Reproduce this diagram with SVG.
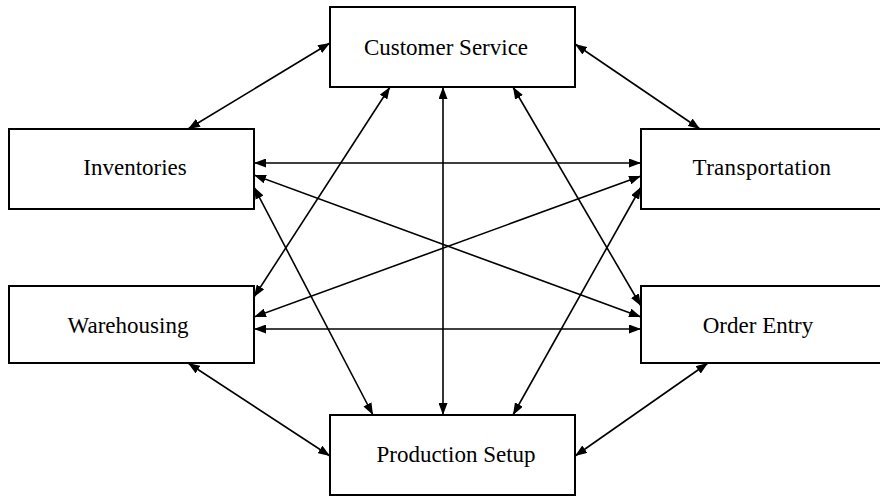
<svg xmlns="http://www.w3.org/2000/svg" width="880" height="496" viewBox="0 0 880 496">
  <style>
    .box rect { fill: #ffffff; stroke: #000000; stroke-width: 2; }
    .box text { font-family: "Liberation Serif", "Times New Roman", serif; font-size: 23px; fill: #000000; text-anchor: middle; }
    #connectors line { stroke: #000000; stroke-width: 1.6; marker-start: url(#arrow); marker-end: url(#arrow); }
  </style>
  <defs>
    <marker id="arrow" viewBox="0 0 12 9" refX="12" refY="4.5" markerWidth="12" markerHeight="9" markerUnits="userSpaceOnUse" orient="auto-start-reverse">
      <path d="M0,0 L12,4.5 L0,9 Z" fill="#000000"/>
    </marker>
  </defs>
  <rect width="880" height="496" fill="#ffffff"/>

  <!-- two-way links between the six functions -->
  <g id="connectors">
    <line x1="330" y1="43" x2="188" y2="129"/>
    <line x1="575" y1="44" x2="700" y2="129"/>
    <line x1="390" y1="87" x2="254" y2="297"/>
    <line x1="443" y1="87" x2="443" y2="415"/>
    <line x1="513" y1="87" x2="641" y2="306"/>
    <line x1="254" y1="163" x2="641" y2="163"/>
    <line x1="254" y1="175" x2="641" y2="317"/>
    <line x1="254" y1="187" x2="373" y2="415"/>
    <line x1="254" y1="317" x2="641" y2="176"/>
    <line x1="254" y1="329" x2="641" y2="329"/>
    <line x1="188" y1="363" x2="330" y2="456"/>
    <line x1="513" y1="415" x2="641" y2="187"/>
    <line x1="575" y1="456" x2="708" y2="363"/>
  </g>

  <g id="customer-service" class="box">
    <rect x="330" y="7" width="245" height="80"/>
    <text x="446" y="55">Customer Service</text>
  </g>
  <g id="inventories" class="box">
    <rect x="9" y="129" width="245" height="80"/>
    <text x="135" y="175">Inventories</text>
  </g>
  <g id="transportation" class="box">
    <rect x="641" y="129" width="245" height="80"/>
    <text x="762" y="175" letter-spacing="0.3">Transportation</text>
  </g>
  <g id="warehousing" class="box">
    <rect x="9" y="286" width="245" height="77"/>
    <text x="128" y="333">Warehousing</text>
  </g>
  <g id="order-entry" class="box">
    <rect x="641" y="286" width="245" height="77"/>
    <text x="758" y="333">Order Entry</text>
  </g>
  <g id="production-setup" class="box">
    <rect x="330" y="415" width="245" height="80"/>
    <text x="456" y="462">Production Setup</text>
  </g>
</svg>
